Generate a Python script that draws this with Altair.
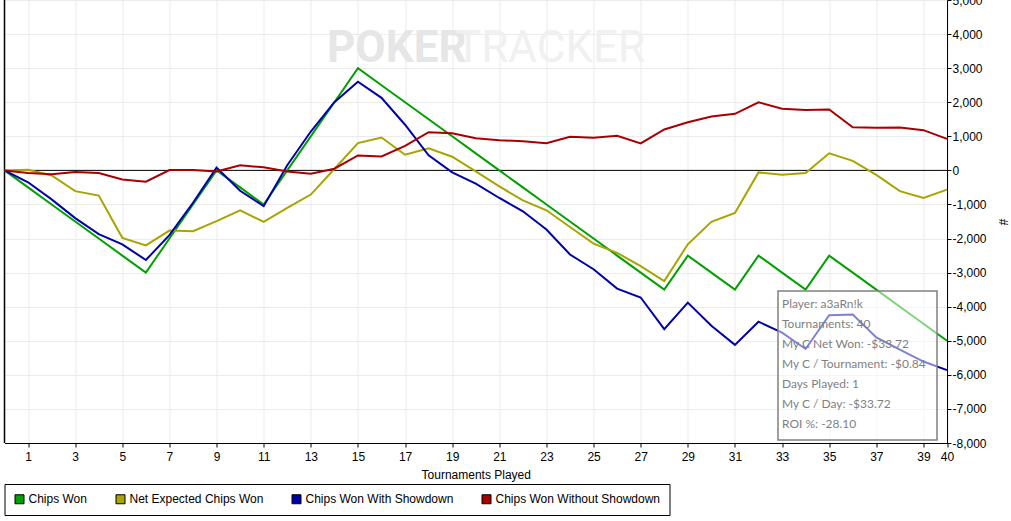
import altair as alt
import pandas as pd

tournaments = [0, 1, 2, 3, 4, 5, 6, 7, 8, 9, 10, 11, 12, 13, 14, 15, 16, 17, 18, 19, 20,
               21, 22, 23, 24, 25, 26, 27, 28, 29, 30, 31, 32, 33, 34, 35, 36, 37, 38, 39, 40]

chips_won = [0, -500, -1000, -1500, -2000, -2500, -3000, -2000, -1000, 0, -500, -1000, 0,
             1000, 2000, 3000, 2500, 2000, 1500, 1000, 500, 0, -500, -1000, -1500, -2000,
             -2500, -3000, -3500, -2500, -3000, -3500, -2500, -3000, -3500, -2500, -3000,
             -3500, -4000, -4500, -5000]

net_expected = [0, 20, -150, -610, -740, -1980, -2200, -1765, -1785, -1490, -1170, -1510,
                -1100, -710, 40, 800, 965, 460, 650, 400, -30, -470, -880, -1170, -1660,
                -2150, -2420, -2810, -3250, -2170, -1510, -1250, -60, -130, -80, 500, 280,
                -130, -610, -810, -565]

with_showdown = [0, -350, -850, -1400, -1870, -2170, -2630, -1900, -950, 80, -600, -1050,
                 150, 1140, 2000, 2600, 2130, 1340, 440, -60, -390, -810, -1200, -1735,
                 -2470, -2900, -3470, -3730, -4660, -3880, -4560, -5120, -4440, -4760,
                 -5240, -4250, -4230, -4900, -5260, -5610, -5860]

without_showdown = [0, -80, -110, -50, -80, -270, -330, 10, 10, -30, 150, 90, -30, -100, 50,
                    440, 410, 720, 1120, 1090, 945, 885, 857, 800, 985, 955, 1015, 790, 1200,
                    1410, 1580, 1660, 2000, 1810, 1775, 1790, 1265, 1250, 1260, 1180, 925]

series_names = ["Chips Won", "Net Expected Chips Won", "Chips Won With Showdown",
                "Chips Won Without Showdown"]
series_colors = ["#00a000", "#a8a400", "#0000a8", "#a80000"]

x_tick_values = [1, 3, 5, 7, 9, 11, 13, 15, 17, 19, 21, 23, 25, 27, 29, 31, 33, 35, 37, 39, 40]
y_tick_values = [-8000, -7000, -6000, -5000, -4000, -3000, -2000, -1000, 0,
                 1000, 2000, 3000, 4000, 5000]

tooltip_lines = ["Player: a3aRn!k", "Tournaments: 40", "My C Net Won: -$33.72",
                 "My C / Tournament: -$0.84", "Days Played: 1", "My C / Day: -$33.72",
                 "ROI %: -28.10"]

watermark_bold = ["POKER"]
watermark_light = ["TRACKER"]

rows = []
for name, vals in zip(series_names, [chips_won, net_expected, with_showdown, without_showdown]):
    for t, v in zip(tournaments, vals):
        rows.append({"t": t, "v": v, "series": name})
df = pd.DataFrame(rows)

FONT = "Liberation Sans"

x_scale = alt.Scale(domain=[0, 40], nice=False, zero=False)
y_scale = alt.Scale(domain=[-8000, 5000], nice=False, zero=False)

x_axis = alt.Axis(values=x_tick_values, grid=True, gridColor="#ebebeb", tickColor="black",
                  tickSize=4, domainColor="black", labelColor="black", labelFont=FONT,
                  labelFontSize=12, labelFlush=False, labelOverlap=False, labelPadding=4,
                  title="Tournaments Played", titleFont=FONT, titleFontSize=12,
                  titleFontWeight="normal", titleColor="black", titlePadding=7)
y_axis = alt.Axis(orient="right", values=y_tick_values, grid=True, gridColor="#ebebeb",
                  tickColor="black", tickSize=4, domainColor="black", labelColor="black",
                  labelFont=FONT, labelFontSize=12, labelFlush=False, labelOverlap=False,
                  labelAlign="left", labelPadding=1,
                  labelExpr="datum.value < 0 ? '-' + format(-datum.value, ',') : '\u00a0\u00a0' + format(datum.value, ',')",
                  title="#", titleFont=FONT, titleFontSize=12, titleFontWeight="normal",
                  titleColor="black", titlePadding=9)

X_T = alt.X("t:Q", scale=x_scale, axis=x_axis)
Y_V = alt.Y("v:Q", scale=y_scale, axis=y_axis)

line_layers = []
for name, col in zip(series_names, series_colors):
    line_layers.append(
        alt.Chart(df).transform_filter(alt.datum.series == name)
        .mark_line(strokeWidth=2, color=col)
        .encode(x=X_T, y=Y_V)
    )

legend_df = pd.DataFrame({"entry": series_names})
legend_pts = alt.Chart(legend_df).mark_square(filled=True, size=81, opacity=1).encode(
    x=alt.value(-200),
    y=alt.value(-200),
    fill=alt.Fill("entry:N", sort=series_names,
                  scale=alt.Scale(domain=series_names, range=series_colors),
                  legend=alt.Legend(orient="none", legendX=0, legendY=484,
                                    direction="horizontal", columns=4, title=None,
                                    symbolType="square", symbolSize=81,
                                    symbolStrokeColor="black", symbolStrokeWidth=1,
                                    labelFont=FONT, labelFontSize=12,
                                    labelColor="black", labelOffset=3, columnPadding=26,
                                    padding=9, strokeColor="black", labelLimit=300)),
)

zero_df = pd.DataFrame({"t": [0], "v": [0]})
zero_rule = alt.Chart(zero_df).mark_rule(color="black", strokeWidth=1).encode(y=Y_V)
left_rule = alt.Chart(zero_df).mark_rule(color="black", strokeWidth=1.5).encode(x=X_T)

wm1 = alt.Chart(pd.DataFrame({"w": watermark_bold})).mark_text(
    align="left", baseline="alphabetic", font="Roboto",
    fontSize=44, fontWeight="bold", color="#e6e6e6"
).encode(x=alt.value(322.5), y=alt.value(62), text="w:N")

wm2 = alt.Chart(pd.DataFrame({"w": watermark_light})).mark_text(
    align="left", baseline="alphabetic", font="Roboto",
    fontSize=44, fontWeight="normal", color="#f0f0f0"
).encode(x=alt.value(450.5), y=alt.value(62), text="w:N")

tip_box = alt.Chart(pd.DataFrame({"b": [1]})).mark_rect(
    fill="white", fillOpacity=0.5, stroke="#808080", strokeWidth=1.5
).encode(x=alt.value(773.5), x2=alt.value(932.5), y=alt.value(291), y2=alt.value(440))

tip_text = alt.Chart(pd.DataFrame({"s": ["\n".join(tooltip_lines)]})).mark_text(
    align="left", baseline="top", lineBreak="\n", lineHeight=20, font="Lato",
    fontSize=12, color="#7f7f7f"
).encode(x=alt.value(777.5), y=alt.value(299), text="s:N")

chart = alt.layer(
    wm1, wm2, zero_rule, left_rule, *line_layers, legend_pts, tip_box, tip_text
).properties(
    width=942.5, height=443,
    autosize=alt.AutoSizeParams(type="none"),
    padding={"left": 4.5, "top": 0, "right": 64, "bottom": 78},
    background="white",
).configure_view(strokeWidth=0)

chart.save("out.html", embed_options={"renderer": "svg", "actions": False})
